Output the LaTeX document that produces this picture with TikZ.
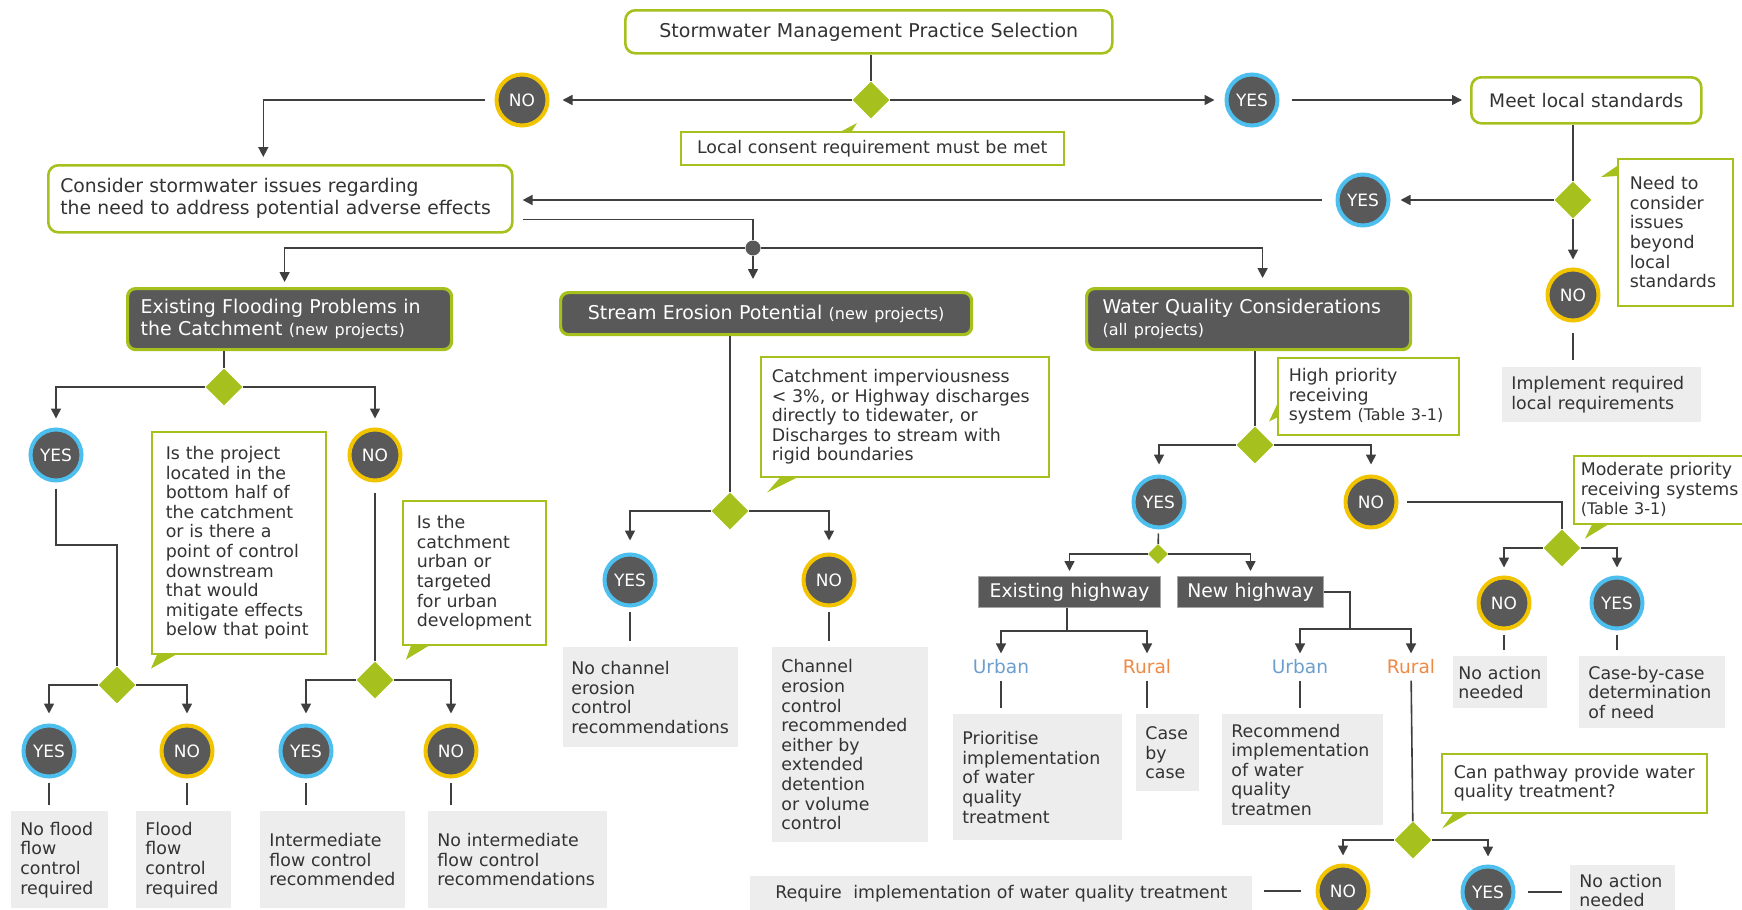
\documentclass[tikz,border=0pt]{standalone}
\usepackage{fontspec}
\setmainfont{DejaVu Sans}
\usetikzlibrary{shapes.geometric,arrows.meta}
\definecolor{lgreen}{HTML}{A6C11E}
\definecolor{dgray}{HTML}{595959}
\definecolor{lgray}{HTML}{EDEDED}
\definecolor{txt}{HTML}{333333}
\definecolor{lcol}{HTML}{3F3F3F}
\definecolor{yesblue}{HTML}{4DBFEF}
\definecolor{noyellow}{HTML}{F2C400}
\definecolor{urbc}{HTML}{6C9FCF}
\definecolor{rurc}{HTML}{EE8A45}
\newcommand{\smallpart}[1]{{\fontsize{8}{10}\selectfont #1}}
\begin{document}
\begin{tikzpicture}[x=0.5pt,y=-0.5pt,
    every node/.style={font=\fontsize{8.7}{9.8}\selectfont, text=txt},
    boxbase/.style={anchor=north west, align=left, inner ysep=0pt},
    startbox/.style={boxbase, draw=lgreen, line width=1.3pt, rounded corners=5pt, fill=white, inner xsep=7.5pt, font=\fontsize{9.5}{11}\selectfont},
    headbox/.style={boxbase, draw=lgreen, line width=1.6pt, rounded corners=4pt, fill=dgray, text=white, inner xsep=6.5pt, font=\fontsize{9.5}{11}\selectfont},
    notebox/.style={boxbase, draw=lgreen, line width=0.8pt, fill=white, inner xsep=6pt},
    resbox/.style={boxbase, fill=lgray, inner xsep=4.5pt},
    hwbox/.style={boxbase, fill=dgray, draw=gray!70, line width=0.5pt, text=white, align=center, inner xsep=0pt, font=\fontsize{9.4}{11}\selectfont},
    yesdot/.style={circle, fill=dgray, draw=yesblue, line width=2pt, minimum size=25.5pt, inner sep=0pt, text=white, font=\fontsize{8.5}{10}\selectfont},
    nodot/.style={yesdot, draw=noyellow},
    choice/.style={diamond, fill=lgreen, inner sep=0pt, minimum size=18.5pt},
    smallchoice/.style={choice, minimum size=10pt},
    joint/.style={circle, fill=dgray, inner sep=0pt, minimum size=7.5pt},
    urban/.style={text=urbc, inner sep=1pt, font=\fontsize{9.3}{11}\selectfont},
    rural/.style={urban, text=rurc},
    conn/.style={draw=lcol, line width=0.8pt},
    arr/.style={conn, -{Triangle[length=5pt,width=5pt]}},
    stub/.style={conn, shorten <=2pt, shorten >=3pt},
    callout/.style={fill=lgreen}]
\useasboundingbox (0,0) rectangle (1742,910);

\node[startbox, align=center, text width=228.5pt, minimum height=21.5pt] (title) at (624,9) {Stormwater Management Practice Selection};
\node[notebox, align=center, text width=179.5pt, minimum height=16.5pt] (consent) at (680,131) {Local consent requirement must be met};
\node[startbox, text width=220pt, inner xsep=6pt, minimum height=33.5pt, font=\fontsize{9.4}{11}\selectfont] (consider) at (47,164) {Consider stormwater issues regarding\\the need to address potential adverse effects};
\node[startbox, align=center, text width=100pt, minimum height=23pt, font=\fontsize{9.3}{11}\selectfont] (meet) at (1470,76) {Meet local standards};
\node[notebox, text width=45.5pt, minimum height=73.5pt] (need) at (1617,158) {Need to\\consider\\issues\\beyond\\local\\standards};
\node[resbox, text width=90.5pt, minimum height=27.5pt] (impl) at (1502,367) {Implement required\\local requirements};

\node[headbox, text width=149pt, minimum height=30.5pt] (flood) at (126,287) {Existing Flooding Problems in\\the Catchment \smallpart{(new projects)}};
\node[headbox, align=center, text width=192.5pt, minimum height=21pt] (stream) at (559,291) {Stream Erosion Potential \smallpart{(new projects)}};
\node[headbox, text width=146pt, inner xsep=8pt, minimum height=30.5pt] (water) at (1085,287) {Water Quality Considerations\\\smallpart{(all projects)}};

\node[notebox, text width=73pt, inner xsep=7pt, minimum height=111pt] (q1) at (151,431) {Is the project\\located in the\\bottom half of\\the catchment\\or is there a\\point of control\\downstream\\that would\\mitigate effects\\below that point};
\node[notebox, text width=57.5pt, inner xsep=7pt, minimum height=72pt] (q2) at (402,500) {Is the\\catchment\\urban or\\targeted\\for urban\\development};
\node[notebox, text width=133pt, inner xsep=5.5pt, minimum height=60pt] (q3) at (760,356) {Catchment imperviousness\\< 3\%, or Highway discharges\\directly to tidewater, or\\Discharges to stream with\\rigid boundaries};
\node[notebox, text width=79.5pt, inner xsep=5.5pt, minimum height=38.5pt] (q4) at (1277,357) {High priority\\receiving\\system \smallpart{(Table 3-1)}};
\node[notebox, text width=86.5pt, inner xsep=3.5pt, minimum height=34pt] (q5) at (1573,455) {Moderate priority\\receiving systems\\\smallpart{(Table 3-1)}};
\node[notebox, text width=120.5pt, minimum height=29.5pt] (q6) at (1441,753) {Can pathway provide water\\quality treatment?};

\node[resbox, text width=39.5pt, minimum height=48.5pt] (r1) at (11,811) {No flood\\flow\\control\\required};
\node[resbox, text width=38.5pt, minimum height=48.5pt] (r2) at (136,811) {Flood\\flow\\control\\required};
\node[resbox, text width=63.5pt, minimum height=48.5pt] (r3) at (260,811) {Intermediate\\flow control\\recommended};
\node[resbox, text width=80.5pt, minimum height=48.5pt] (r4) at (428,811) {No intermediate\\flow control\\recommendations};
\node[resbox, text width=79.5pt, inner xsep=4pt, minimum height=50pt] (r5) at (563,647) {No channel\\erosion\\control\\recommendations};
\node[resbox, text width=69pt, minimum height=97.5pt] (r6) at (772,647) {Channel\\erosion\\control\\recommended\\either by\\extended\\detention\\or volume\\control};
\node[resbox, text width=75.5pt, minimum height=63pt] (prio) at (953,714) {Prioritise\\implementation\\of water\\quality\\treatment};
\node[resbox, text width=22.5pt, minimum height=38.5pt] (case) at (1136,714) {Case\\by\\case};
\node[resbox, text width=71.5pt, minimum height=55.5pt] (rec) at (1222,714) {Recommend\\implementation\\of water\\quality\\treatmen};
\node[resbox, align=center, text width=242pt, minimum height=17pt] (req) at (750,876) {Require\ \ implementation of water quality treatment};
\node[resbox, text width=42pt, inner xsep=2.5pt, minimum height=26pt] (act1) at (1453,656) {No action\\needed};
\node[resbox, text width=64pt, minimum height=36pt] (cbc) at (1579,656) {Case-by-case\\determination\\of need};
\node[resbox, text width=43.5pt, minimum height=25pt] (act2) at (1570,865) {No action\\needed};

\node[hwbox, text width=91pt, minimum height=15.5pt] (exist) at (978,576) {Existing highway};
\node[hwbox, text width=73pt, minimum height=15.5pt] (newhw) at (1177,576) {New highway};
\node[urban] (urb1) at (1001,667) {Urban};
\node[rural] (rur1) at (1147,667) {Rural};
\node[urban] (urb2) at (1300,667) {Urban};
\node[rural] (rur2) at (1411,667) {Rural};

\foreach \n/\x/\y in {yes0/1252/100, yes1/1363/200, yF/56/455, yF1/49/751, yF2/306/751, yS/630/580, yW/1159/502, yM/1617/603, yR/1488/892}
    \node[yesdot] (\n) at (\x,\y) {YES};
\foreach \n/\x/\y in {no0/522/100, no1/1573/295, nF/375/455, nF1/187/751, nF2/451/751, nS/829/580, nW/1371/502, nM/1504/603, nR/1343/891}
    \node[nodot] (\n) at (\x,\y) {NO};
\foreach \n/\x/\y in {d0/871/100, d1/1573/200, dF/224/387, dF1/117/685, dF2/375/680, dS/730/511, dW/1255/445, dM/1562/548, dR/1413/840}
    \node[choice] (\n) at (\x,\y) {};
\node[smallchoice] (dW1) at (1158,554) {};
\node[joint] (dot) at (753,248) {};
\coordinate (fb) at (117,545);
\coordinate (eb) at (1067,631);
\coordinate (nb) at (1350,629);

\fill[callout] ([xshift=81pt]consent.north west) -- ([xshift=86pt]consent.north west) -- ([xshift=88.5pt,yshift=4pt]consent.north west) -- cycle;
\fill[callout] ([yshift=-4pt]need.north west) -- ([yshift=-9pt]need.north west) -- ([xshift=-8pt,yshift=-9.5pt]need.north west) -- cycle;
\fill[callout] ([xshift=3pt]q1.south west) -- ([xshift=12.5pt]q1.south west) -- ([yshift=-7pt]q1.south west) -- cycle;
\fill[callout] ([xshift=4.5pt]q2.south west) -- ([xshift=13.5pt]q2.south west) -- ([xshift=2pt,yshift=-7pt]q2.south west) -- cycle;
\fill[callout] ([xshift=10pt]q3.south west) -- ([xshift=18.5pt]q3.south west) -- ([xshift=3.5pt,yshift=-7.5pt]q3.south west) -- cycle;
\fill[callout] ([yshift=15.5pt]q4.south west) -- ([yshift=9pt]q4.south west) -- ([xshift=-4pt,yshift=7pt]q4.south west) -- cycle;
\fill[callout] ([xshift=9.5pt]q5.south west) -- ([xshift=17.5pt]q5.south west) -- ([xshift=6pt,yshift=-7pt]q5.south west) -- cycle;
\fill[callout] ([xshift=6pt]q6.south west) -- ([xshift=13.5pt]q6.south west) -- ([xshift=0.5pt,yshift=-7.5pt]q6.south west) -- cycle;

\draw[conn] (title.south -| d0) -- (d0);
\draw[arr, shorten >=6.5pt] (d0) -- (no0);
\draw[arr, shorten >=5pt] (d0) -- (yes0);
\draw[arr, shorten <=5pt, shorten >=3.5pt] (no0) -| ([xshift=-8.5pt]consider.north);
\draw[arr, shorten <=6pt, shorten >=4pt] (yes0) -- (yes0 -| meet.west);
\draw[conn] (meet.south -| d1) -- (d1);
\draw[arr, shorten >=5pt] (d1) -- (yes1);
\draw[arr, shorten >=4pt] (d1) -- (no1);
\draw[arr, shorten <=7pt, shorten >=4.5pt] (yes1) -- (yes1 -| consider.east);
\draw[conn, shorten <=4.5pt] ([yshift=-10.25pt]consider.east) -| (dot);
\draw[arr, shorten >=2.5pt] (dot) -| ([xshift=-2.5pt]flood.north);
\draw[arr, shorten >=6pt] (dot) -- (dot |- stream.north);
\draw[arr, shorten >=4.5pt] (dot) -| ([xshift=7pt]water.north);
\draw[conn, shorten <=5pt, shorten >=3.5pt] (no1) -- (no1 |- impl.north);

\draw[conn] (flood.south -| dF) -- (dF);
\draw[arr, shorten >=4.5pt] (dF) -| (yF);
\draw[arr, shorten >=4.5pt] (dF) -| (nF);
\draw[conn, shorten <=3pt] (yF) |- (fb) -- (dF1);
\draw[arr, shorten >=5pt] (dF1) -| (yF1);
\draw[arr, shorten >=5pt] (dF1) -| (nF1);
\draw[conn, shorten <=5pt] (nF) -- (dF2);
\draw[arr, shorten >=5pt] (dF2) -| (yF2);
\draw[arr, shorten >=5pt] (dF2) -| (nF2);
\draw[stub] (yF1) -- (yF1 |- r1.north);
\draw[stub] (nF1) -- (nF1 |- r2.north);
\draw[stub] (yF2) -- (yF2 |- r3.north);
\draw[stub] (nF2) -- (nF2 |- r4.north);

\draw[conn] (stream.south -| dS) -- (dS);
\draw[arr, shorten >=6pt] (dS) -| (yS);
\draw[arr, shorten >=6pt] (dS) -| (nS);
\draw[stub] (yS) -- (yS |- r5.north);
\draw[stub] (nS) -- (nS |- r6.north);

\draw[conn] (water.south -| dW) -- (dW);
\draw[arr, shorten >=5pt] (dW) -| (yW);
\draw[arr, shorten >=5pt] (dW) -| (nW);
\draw[conn, shorten <=2pt] (yW) -- (dW1);
\draw[arr, shorten >=2.5pt] (dW1) -| (exist);
\draw[arr, shorten >=2.5pt] (dW1) -| (newhw);
\draw[conn] (exist.south -| eb) -- (eb);
\draw[arr, shorten >=2pt] (eb) -| (urb1);
\draw[arr, shorten >=2pt] (eb) -| (rur1);
\draw[conn] (newhw.east) -| (nb);
\draw[arr, shorten >=2pt] (nb) -| (urb2);
\draw[arr, shorten >=2pt] (nb) -| (rur2);
\draw[stub] (urb1) -- (urb1 |- prio.north);
\draw[stub] (rur1) -- (rur1 |- case.north);
\draw[stub] (urb2) -- (urb2 |- rec.north);
\draw[conn, shorten <=2pt] (rur2) -- (dR);
\draw[arr, shorten >=4pt] (dR) -| (nR);
\draw[arr, shorten >=4pt] (dR) -| (yR);
\draw[conn, shorten <=7.5pt, shorten >=5.5pt] (nR) -- (nR -| req.east);
\draw[conn, shorten <=6pt, shorten >=4pt] (yR) -- (yR -| act2.west);
\draw[conn, shorten <=4pt] (nW) -| (dM);
\draw[arr, shorten >=4pt] (dM) -| (nM);
\draw[arr, shorten >=4pt] (dM) -| (yM);
\draw[stub] (nM) -- (nM |- act1.north);
\draw[stub] (yM) -- (yM |- cbc.north);
\end{tikzpicture}
\end{document}
